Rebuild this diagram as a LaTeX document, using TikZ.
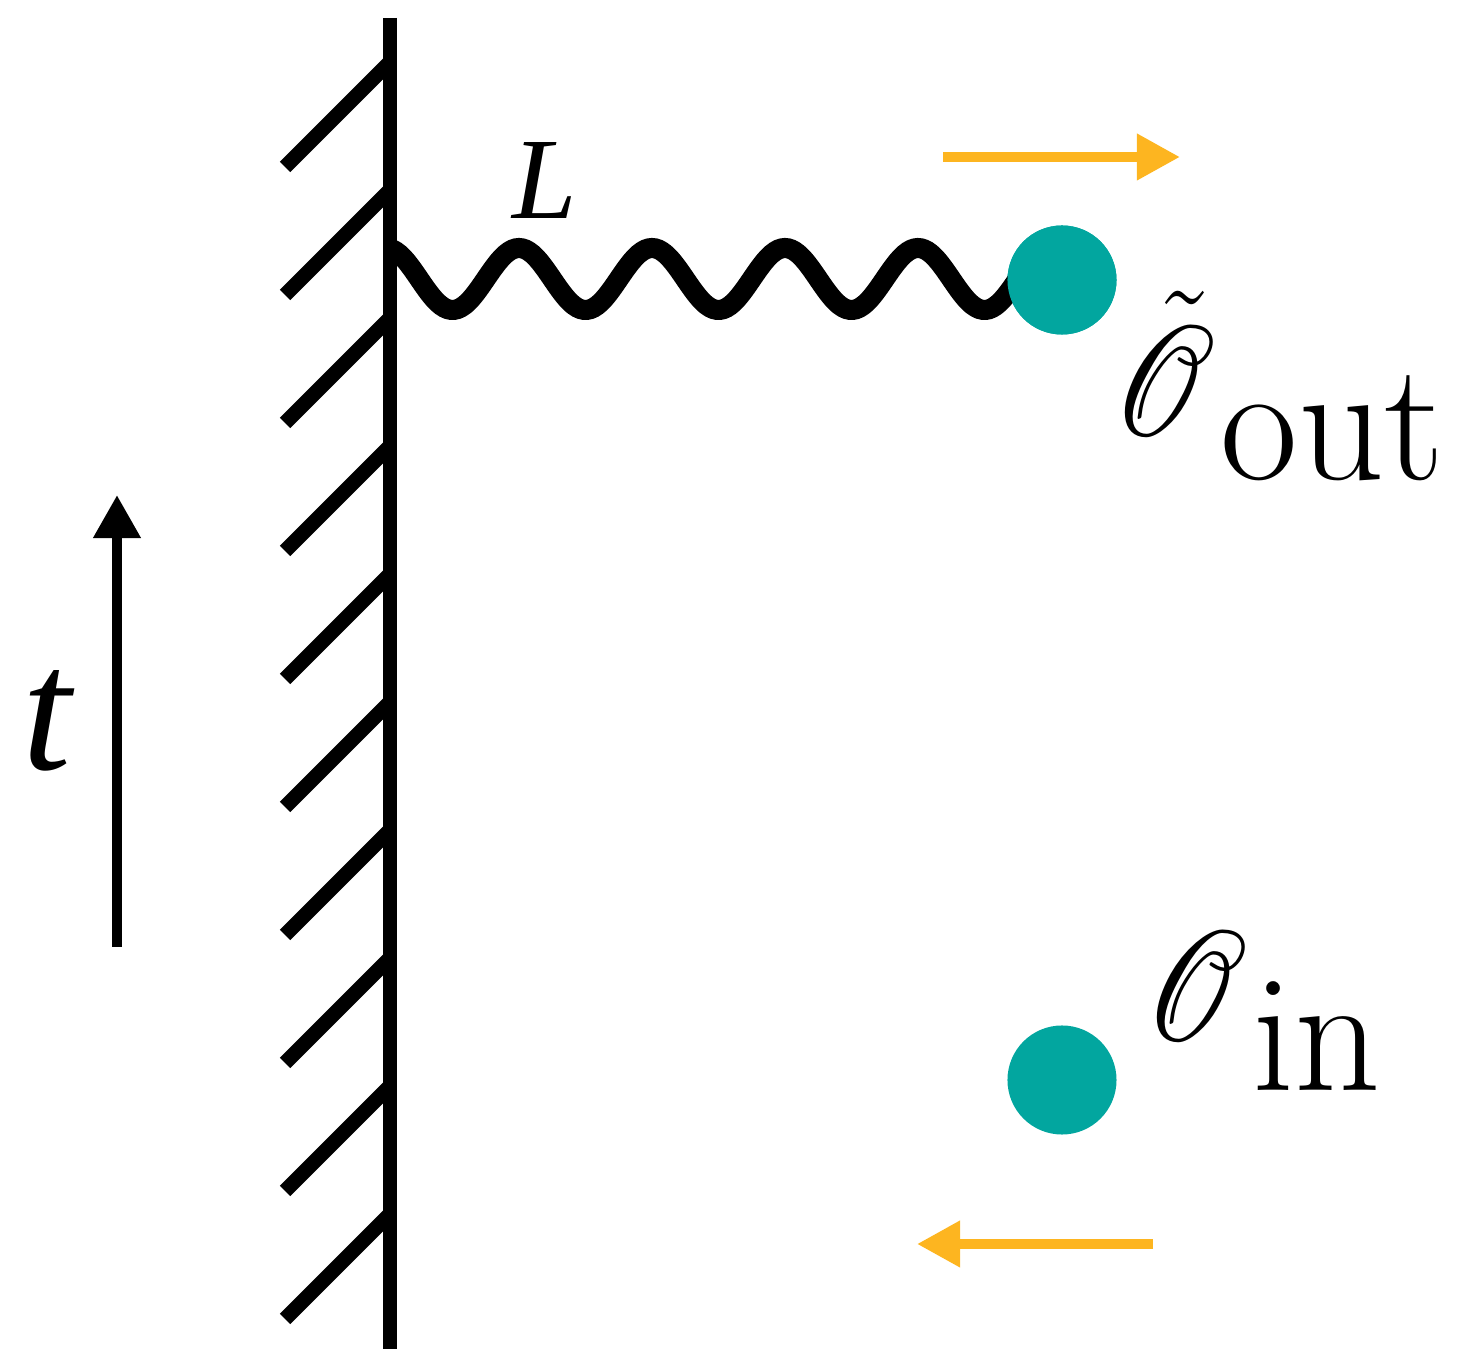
\documentclass[tikz,border=0pt]{standalone}
\usepackage{amsmath}
\usepackage{graphicx}
\usepackage{mathrsfs}
\usepackage{fontspec}
\newfontfamily\timesfont{Liberation Serif}
\usetikzlibrary{arrows.meta}
\definecolor{tealdot}{HTML}{02A69F}
\definecolor{amber}{HTML}{FDB520}
\tikzset{
  wallline/.style={line width=4.2pt},
  hatchline/.style={line width=4.2pt},
  wavy/.style={line width=5.7pt},
  dot/.style={circle, fill=tealdot, draw=none, minimum size=1.09cm, inner sep=0pt},
  timearrow/.style={line width=2.9pt, -{Triangle[length=0.43cm,width=0.45cm]}},
  motion/.style={draw=amber, line width=2.85pt, -{Triangle[length=0.43cm,width=0.44cm]}},
  lab/.style={inner sep=0pt, anchor=base west}
}
\newcommand{\bigscr}[1]{\scalebox{1.42}[1.8]{\fontsize{24.88}{25}\selectfont$#1$}}
\begin{document}
\begin{tikzpicture}[x=0.01cm,y=-0.01cm]
\useasboundingbox (0,0) rectangle (1459,1349);
% wall
\coordinate (walltop) at (390,18);
\coordinate (wallbot) at (390,1349);
\draw[wallline] (walltop) -- (wallbot);
\foreach \k in {0,...,9}{
  \draw[hatchline] (390,62+128*\k) -- ++(-105,105);
}
% particles
\node[dot] (pout) at (1062,280) {};
\node[dot] (pin) at (1062,1080) {};
% wavy line from wall to outgoing particle
\coordinate (wavestart) at (392,249);
\draw[wavy] (wavestart) -- plot[variable=\s, domain=0.05:4.9, samples=200, smooth] ({386+133*\s}, {279-31*cos(360*\s)}) -- (pout.center);
\node[dot] at (pout.center) {};
% time arrow
\coordinate (tbot) at (117,947);
\coordinate (ttop) at (117,495);
\draw[timearrow] (tbot) -- (ttop);
\node[lab, font=\fontsize{50}{50}\selectfont\timesfont\itshape] (tlab) at (22,770) {t};
% L
\node[lab, font=\fontsize{33}{33}\selectfont\timesfont\itshape] (Llab) at (512,219) {L};
% motion arrows
\coordinate (oa1) at (943,157);
\coordinate (oa2) at (1180,157);
\draw[motion] (oa1) -- (oa2);
\coordinate (ia1) at (1153,1244);
\coordinate (ia2) at (917,1244);
\draw[motion] (ia1) -- (ia2);
% labels
\node[lab] (Ooutlab) at (1113,437) {\makebox[30.4pt][l]{\bigscr{\tilde{\mathscr{O}}}}\raisebox{-12.2pt}{\fontsize{48}{48}\selectfont out}};
\node[lab] (Oinlab) at (1145,1042) {\makebox[30.4pt][l]{\bigscr{\mathscr{O}}}\raisebox{-13.7pt}{\fontsize{48}{48}\selectfont in}};
\end{tikzpicture}
\end{document}
